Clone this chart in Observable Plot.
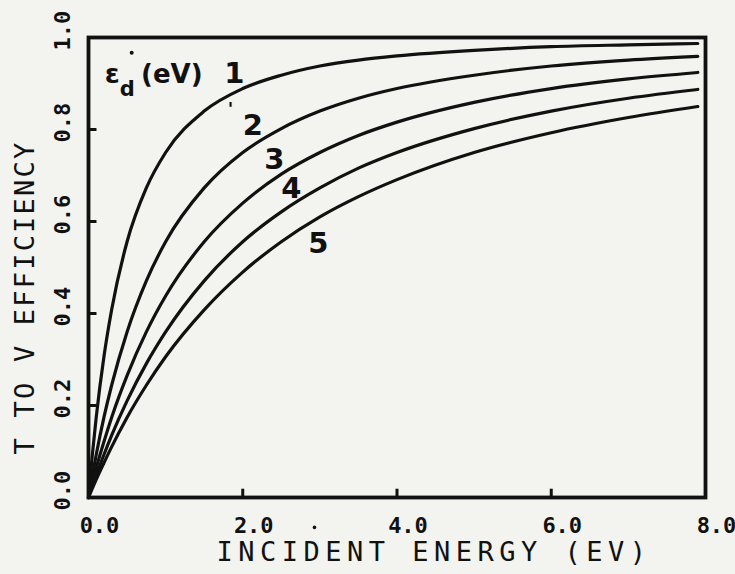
<!DOCTYPE html>
<html><head><meta charset="utf-8">
<script src="https://cdn.jsdelivr.net/npm/d3@7"></script>
<script src="https://cdn.jsdelivr.net/npm/@observablehq/plot@0.6"></script>
<style>
html,body{margin:0;padding:0;background:#f3f3ef;}
#chart{width:735px;height:574px;}
</style></head><body><div id="chart"></div>
<script>
// Incident energy (eV) sample positions
const energy = [0, 0.05, 0.1, 0.2, 0.3, 0.5, 0.75, 1, 1.5, 2, 2.5, 3, 3.5, 4, 5, 6, 7, 7.9];
// T to V efficiency for each ε'd (eV)
const eff1 = [0, 0.093, 0.174, 0.306, 0.408, 0.556, 0.673, 0.75, 0.84, 0.889, 0.918, 0.938, 0.951, 0.96, 0.972, 0.98, 0.984, 0.987];
const eff2 = [0, 0.048, 0.093, 0.174, 0.244, 0.36, 0.471, 0.556, 0.673, 0.75, 0.802, 0.84, 0.868, 0.889, 0.918, 0.938, 0.951, 0.959];
const eff3 = [0, 0.033, 0.064, 0.121, 0.174, 0.265, 0.36, 0.438, 0.556, 0.64, 0.703, 0.75, 0.787, 0.816, 0.859, 0.889, 0.91, 0.924];
const eff4 = [0, 0.025, 0.048, 0.093, 0.135, 0.21, 0.291, 0.36, 0.471, 0.556, 0.621, 0.673, 0.716, 0.75, 0.802, 0.84, 0.868, 0.887];
const eff5 = [0, 0.02, 0.039, 0.075, 0.11, 0.174, 0.244, 0.306, 0.408, 0.49, 0.556, 0.61, 0.654, 0.691, 0.75, 0.793, 0.826, 0.85];
const seriesNames = ["1", "2", "3", "4", "5"];
const xTicks = [0, 2, 4, 6, 8];
const yTicks = [0, 0.2, 0.4, 0.6, 0.8, 1.0];
const xInnerTicks = [2, 4, 6];
const yInnerTicks = [0.2, 0.4, 0.6, 0.8];
const xTitle = "INCIDENT ENERGY (EV)";
const yTitle = "T TO V EFFICIENCY";
const keySymbol = "ε";
const keySub = "d";
const keyUnit = "(eV)";

const allSeries = [eff1, eff2, eff3, eff4, eff5];
const rows = allSeries.flatMap((vals, k) => energy.map((e, i) => ({e, v: vals[i], s: seriesNames[k]})));

const curveLabels = [
  {x: 1.89, y: 0.921, t: seriesNames[0]},
  {x: 2.13, y: 0.809, t: seriesNames[1]},
  {x: 2.41, y: 0.735, t: seriesNames[2]},
  {x: 2.63, y: 0.671, t: seriesNames[3]},
  {x: 2.98, y: 0.552, t: seriesNames[4]}
];

const ink = "#111";
const svg = Plot.plot({
  width: 735, height: 574,
  marginLeft: 88, marginRight: 30, marginTop: 37, marginBottom: 77,
  style: {background: "#f3f3ef", color: ink, fontFamily: "DejaVu Sans Mono"},
  x: {domain: [0, 8]},
  y: {domain: [0, 1]},
  marks: [
    Plot.line(rows, {x: "e", y: "v", z: "s", stroke: ink, strokeWidth: 3.2, curve: "monotone-x"}),
    Plot.frame({stroke: ink, strokeWidth: 3.8}),
    Plot.ruleX(xInnerTicks, {y1: 0, y2: 0.018, stroke: ink, strokeWidth: 3}),
    Plot.ruleY(yInnerTicks, {x1: 0, x2: 0.11, stroke: ink, strokeWidth: 3}),
    Plot.axisX(xTicks, {tickSize: 0, tickPadding: 20, tickFormat: d => d.toFixed(1), fontSize: 22, fontWeight: "bold", dx: 11, label: null}),
    Plot.axisY(yTicks, {tickSize: 0, tickPadding: 19, tickRotate: -90, tickFormat: d => d.toFixed(1), fontSize: 22, fontWeight: "bold", dy: -7, label: null}),
    Plot.text([xTitle], {frameAnchor: "bottom", textAnchor: "middle", dx: 37, dy: 55, fontSize: 27, lineAnchor: "middle", text: d => d}),
    Plot.text([yTitle], {frameAnchor: "left", textAnchor: "middle", dx: -63, dy: 30, rotate: -90, fontSize: 27, lineAnchor: "middle", text: d => d}),
    Plot.text(curveLabels, {x: "x", y: "y", text: "t", fontSize: 29, fontWeight: "bold", fontFamily: "DejaVu Sans", lineAnchor: "middle"}),
    Plot.text([keySymbol], {x: 0.21, y: 0.92, text: d => d, textAnchor: "start", fontSize: 27, fontWeight: "bold", fontFamily: "DejaVu Sans", lineAnchor: "middle"}),
    Plot.dot([0], {x: 0.56, y: 0.967, r: 2, fill: ink}),
    Plot.text([keyUnit], {x: 1.08, y: 0.92, text: d => d, fontSize: 26, fontWeight: "bold", fontFamily: "DejaVu Sans", lineAnchor: "middle"}),
    Plot.text(["'"], {x: 1.84, y: 0.845, text: d => d, fontSize: 18, fontWeight: "bold", fontFamily: "DejaVu Sans", lineAnchor: "middle"}),
    Plot.dot([0], {x: 2.93, y: -0.065, r: 1.8, fill: ink})
  ]
});
d3.select(svg).selectAll("text").each(function() {
  if (this.textContent === xTitle) this.style.letterSpacing = "5.5px";
  if (this.textContent === yTitle) this.style.letterSpacing = "2.2px";
  if (this.textContent === keySymbol) {
    d3.select(this).append("tspan").attr("font-size", 21).attr("dx", 0).attr("dy", 13).text(keySub);
  }
});
document.getElementById("chart").appendChild(svg);
</script></body></html>
